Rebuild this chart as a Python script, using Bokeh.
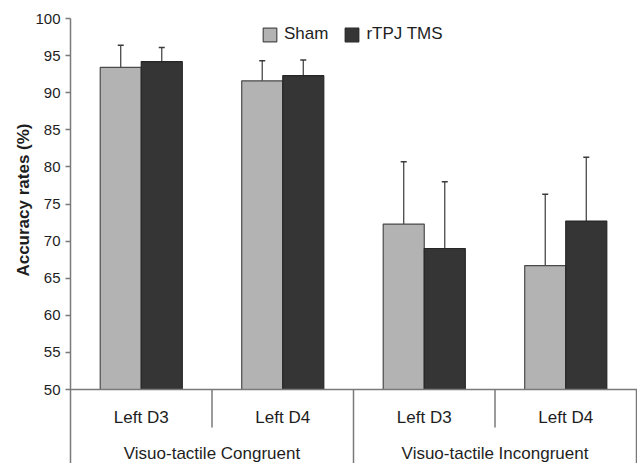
from bokeh.plotting import figure
from bokeh.models import (Range1d, FixedTicker, Span, Legend, LegendItem,
                          Whisker, TeeHead, ColumnDataSource, Title)
from bokeh.embed import file_html
from bokeh.resources import INLINE
from bokeh.core.properties import value

# ---- data ----
groups = ["Visuo-tactile Congruent", "Visuo-tactile Incongruent"]
fingers = ["Left D3", "Left D4"]
series_names = ["Sham", "rTPJ TMS"]
sham = [93.4, 91.6, 72.3, 66.7]
sham_err = [3.0, 2.7, 8.4, 9.6]
tms = [94.2, 92.3, 69.0, 72.7]
tms_err = [1.9, 2.1, 9.0, 8.6]
y_ticks = [50, 55, 60, 65, 70, 75, 80, 85, 90, 95, 100]
y_title = "Accuracy rates (%)"

# ---- layout / style ----
FONT = "Liberation Sans"
W, H = 637, 463
LEFT, TOP = 70, 18
frame_w = W - LEFT
frame_h = H - TOP
ncat = len(groups) * len(fingers)
cat_px = 141.5
y_top = y_ticks[-1]
px_per_unit = 7.42
y_bottom = y_top - frame_h / px_per_unit
bar_w = 0.29
off = 0.145
SHAM_C = "#b3b3b3"
TMS_C = "#353535"
AX_C = "#7a7a7a"
TXT_C = "#1e1e1e"
TITLE_LEN_PX = 161

p = figure(width=W, height=H, output_backend="svg", toolbar_location=None,
           x_axis_location=None,
           x_range=Range1d(0, frame_w / cat_px),
           y_range=Range1d(y_bottom, y_top),
           min_border_left=LEFT, min_border_right=0,
           min_border_top=TOP, min_border_bottom=0)
p.outline_line_color = None
p.xgrid.visible = False
p.ygrid.visible = False
p.background_fill_color = "white"
p.border_fill_color = "white"

cats = list(range(ncat))
centers = [c + 0.5 for c in cats]
base = y_ticks[0]

src_s = ColumnDataSource(dict(x=[c - off for c in centers], top=sham,
                              up=[v + e for v, e in zip(sham, sham_err)],
                              lo=[v - e for v, e in zip(sham, sham_err)]))
src_t = ColumnDataSource(dict(x=[c + off for c in centers], top=tms,
                              up=[v + e for v, e in zip(tms, tms_err)],
                              lo=[v - e for v, e in zip(tms, tms_err)]))

r_s = p.vbar(x="x", top="top", bottom=base, width=bar_w, source=src_s,
             fill_color=SHAM_C, line_color="#4a4a4a", line_width=1.2)
r_t = p.vbar(x="x", top="top", bottom=base, width=bar_w, source=src_t,
             fill_color=TMS_C, line_color="#262626", line_width=1.2)

for src in (src_s, src_t):
    w = Whisker(source=src, base="x", upper="up", lower="lo",
                line_color="#3a3a3a", line_width=1.2,
                upper_head=TeeHead(size=6, line_color="#3a3a3a", line_width=1.5),
                lower_head=TeeHead(size=6, line_color="#3a3a3a", line_width=1.5))
    p.add_layout(w)

# y axis (ticks + full-height line)
ax = p.yaxis[0]
ax.ticker = FixedTicker(ticks=y_ticks)
ax.major_tick_out = 5
ax.major_tick_in = 0
ax.minor_tick_out = 0
ax.minor_tick_in = 0
ax.axis_line_color = AX_C
ax.axis_line_width = 1.5
ax.major_tick_line_color = AX_C
ax.major_tick_line_width = 1.5
ax.major_label_text_font = FONT
ax.major_label_text_font_size = "15px"
ax.major_label_text_color = TXT_C
ax.major_label_standoff = 5

# y title: anchored at its top end, placed so it is centred on the 50-100 span
span_mid_px = (y_ticks[-1] - (y_ticks[0] + y_ticks[-1]) / 2) * px_per_unit
title_offset = span_mid_px - TITLE_LEN_PX / 2
p.add_layout(Title(text=y_title, align="right", offset=title_offset,
                   standoff=0, text_font=FONT, text_font_style="bold",
                   text_font_size="17px", text_color=TXT_C), "left")

# category axis drawn in the lower band
p.add_layout(Span(location=base, dimension="width", line_color=AX_C, line_width=1.5))
inner_bottom = base - 38 / px_per_unit
inner_x = [g * len(fingers) + f for g in range(len(groups)) for f in range(1, len(fingers))]
outer_x = [(g + 1) * len(fingers) for g in range(len(groups))]
p.segment(x0=inner_x, x1=inner_x, y0=[base] * len(inner_x), y1=[inner_bottom] * len(inner_x),
          line_color=AX_C, line_width=1.5)
p.segment(x0=outer_x, x1=outer_x, y0=[base] * len(outer_x), y1=[y_bottom] * len(outer_x),
          line_color=AX_C, line_width=1.5)

finger_y = base - 28 / px_per_unit
group_y = base - 64 / px_per_unit
p.text(x=centers, y=[finger_y] * ncat, text=fingers * len(groups),
       text_align="center", text_baseline="middle",
       text_font=value(FONT), text_font_size="17px", text_color=TXT_C)
gcenters = [(g + 0.5) * len(fingers) for g in range(len(groups))]
p.text(x=gcenters, y=[group_y] * len(groups), text=groups,
       text_align="center", text_baseline="middle",
       text_font=value(FONT), text_font_size="17px", text_color=TXT_C)

legend = Legend(items=[LegendItem(label=series_names[0], renderers=[r_s]),
                       LegendItem(label=series_names[1], renderers=[r_t])],
                orientation="horizontal", location=(191, 419),
                padding=0, margin=0, spacing=15,
                glyph_width=17, glyph_height=17, label_standoff=6,
                label_height=17,
                label_text_font=FONT, label_text_font_size="17px",
                label_text_color=TXT_C,
                border_line_color=None, background_fill_alpha=0)
p.add_layout(legend)

open("out.html", "w").write(file_html(p, INLINE))
